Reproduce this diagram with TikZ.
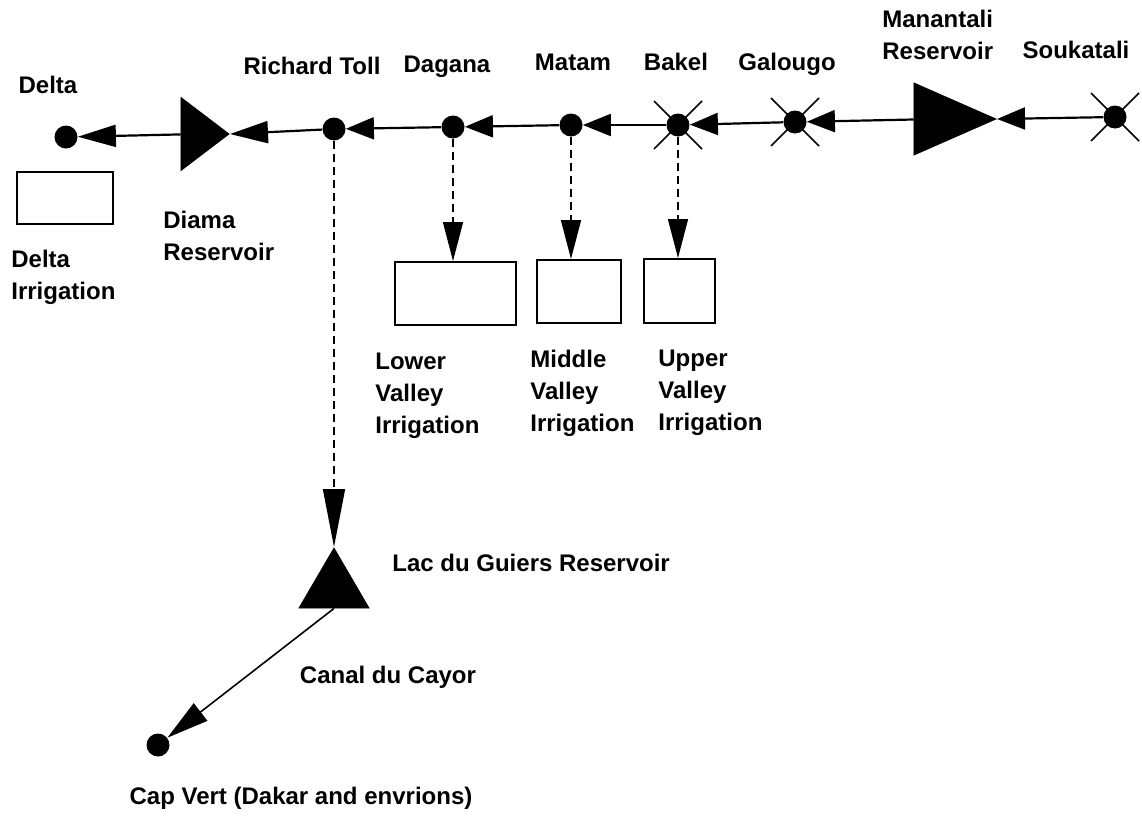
\documentclass[tikz,border=0pt]{standalone}
\usepackage{fontspec}
\setmainfont{Liberation Sans}
\usepackage{tikz}
\usetikzlibrary{positioning,arrows.meta,shapes,calc}

\begin{document}
\begin{tikzpicture}[
    x=0.5pt, y=-0.5pt,
    >=Latex,
    site/.style      = {circle, fill=black, minimum size=11.5pt, inner sep=0pt},
    reservoir/.style = {isosceles triangle, isosceles triangle stretches,
                        fill=black, draw=black, inner sep=0pt, anchor=apex},
    demand/.style    = {rectangle, draw=black, line width=1pt, inner sep=0pt},
    lbl/.style       = {font=\fontsize{12}{16}\selectfont\bfseries, inner sep=0pt},
    lblbase/.style   = {lbl, anchor=base},
    lblblock/.style  = {lbl, align=left, anchor=north west},
    river/.style     = {line width=1.1pt, -{Triangle[length=14pt,width=11pt]}},
    riverlong/.style = {line width=1.1pt, -{Triangle[length=19pt,width=11pt]}},
    divert/.style    = {line width=0.8pt, dash pattern=on 4pt off 2.5pt,
                        -{Triangle[length=19.5pt,width=10pt]}},
    divertlong/.style= {divert, -{Triangle[length=29pt,width=11pt]}},
    canal/.style     = {line width=0.8pt, -{Triangle[length=21pt,width=11pt]}},
    gauge/.style     = {line width=0.8pt},
]
\useasboundingbox (0,0) rectangle (1142,825);

% =============================== main river ===============================
\node[site] (delta)     at (66,137)  {};
\node[reservoir, minimum width=36.5pt, minimum height=24pt] (diama) at (230,134) {};
\node[site] (richard)   at (334,129) {};
\node[site] (dagana)    at (453,127) {};
\node[site] (matam)     at (571,125) {};
\node[site] (bakel)     at (678,125) {};
\node[site] (galougo)   at (795,122) {};
\node[reservoir, minimum width=36pt, minimum height=41pt] (manantali) at (997,119) {};
\node[site] (soukatali) at (1115,117) {};

% gauging stations
\foreach \n in {bakel,galougo,soukatali} {
    \draw[gauge] (\n.center) +(-24,-24) -- +(24,24)
                 (\n.center) +(-24,24)  -- +(24,-24);
}

\draw[river]     (soukatali) -- (manantali.apex);
\draw[river]     (manantali) -- (galougo);
\draw[river]     (galougo)   -- (bakel);
\draw[river]     (bakel)     -- (matam);
\draw[river]     (matam)     -- (dagana);
\draw[river]     (dagana)    -- (richard);
\draw[riverlong] (richard)   -- (diama.apex);
\draw[riverlong] (diama)     -- (delta);

\node[lblbase] (l-delta)     at (48,93)   {Delta};
\node[lblbase] (l-richard)   at (312,74)  {Richard Toll};
\node[lblbase] (l-dagana)    at (447,72)  {Dagana};
\node[lblbase] (l-matam)     at (573,70)  {Matam};
\node[lblbase] (l-bakel)     at (676,70)  {Bakel};
\node[lblbase] (l-galougo)   at (787,70)  {Galougo};
\node[lblblock] (l-manantali) at (882,9.5) {Manantali\\Reservoir};
\node[lblbase] (l-soukatali) at (1076,58) {Soukatali};
\node[lblblock] (l-diama)    at (163,210.5) {Diama\\Reservoir};

% =============================== irrigation ===============================
\node[demand, minimum width=48pt, minimum height=26pt]   (deltairr) at (65,198)    {};
\node[demand, minimum width=60.5pt, minimum height=31.5pt] (lowerirr) at (455.5,293.5) {};
\node[demand, minimum width=42pt, minimum height=31.5pt] (middleirr) at (579,291.5) {};
\node[demand, minimum width=35.5pt, minimum height=32pt] (upperirr) at (679.5,291) {};

\foreach \s/\d in {dagana/lowerirr, matam/middleirr, bakel/upperirr} {
    \draw[divert] (\s) -- (\s |- \d.north);
}

\node[lblblock] (l-deltairr)  at (11,249.5)  {Delta\\Irrigation};
\node[lblblock] (l-lowerirr)  at (375,352.5) {Lower\\Valley\\Irrigation};
\node[lblblock] (l-middleirr) at (530,350)   {Middle\\Valley\\Irrigation};
\node[lblblock] (l-upperirr)  at (658,350)   {Upper\\Valley\\Irrigation};

% =============================== Lac du Guiers ============================
\node[reservoir, rotate=90, minimum width=35pt, minimum height=30pt] (lac) at (334,547) {};
\node[site] (capvert) at (158,745) {};

\draw[divertlong] (richard) -- (lac.apex);
\draw[canal] ($(lac.left corner)!0.5!(lac.right corner)$) -- (capvert);

\node[lbl, anchor=base west] (l-lac)   at (392,571) {Lac du Guiers Reservoir};
\node[lblbase]               (l-canal) at (388,683) {Canal du Cayor};
\node[lblbase]               (l-capvert) at (301,804) {Cap Vert (Dakar and envrions)};

\end{tikzpicture}
\end{document}
